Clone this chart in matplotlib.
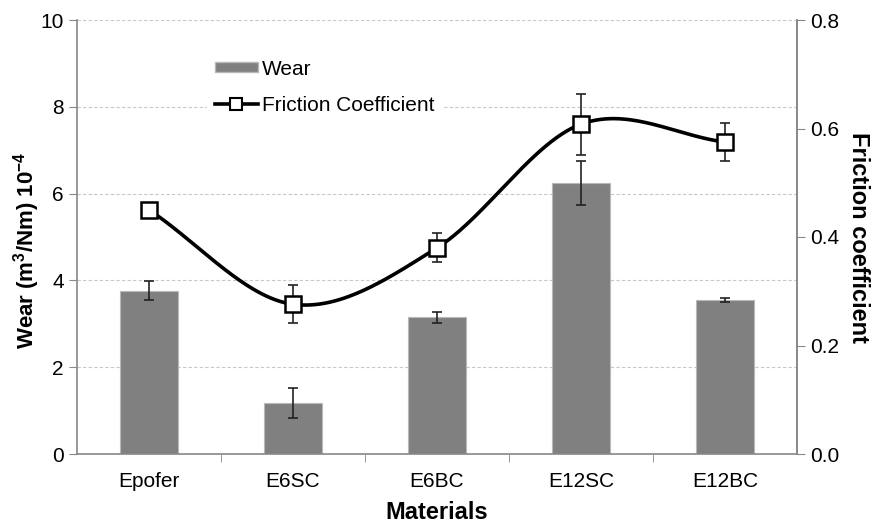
import numpy as np
import matplotlib
matplotlib.use("Agg")
import matplotlib.pyplot as plt
from matplotlib.lines import Line2D
from matplotlib.patches import Patch

plt.rcParams['font.family'] = ['Liberation Sans', 'DejaVu Sans']
plt.rcParams['mathtext.fontset'] = 'custom'
plt.rcParams['mathtext.rm'] = 'Liberation Sans'
plt.rcParams['mathtext.bf'] = 'Liberation Sans:bold'

materials = ["Epofer", "E6SC", "E6BC", "E12SC", "E12BC"]
wear = [3.76, 1.17, 3.15, 6.24, 3.55]
wear_err = [0.22, 0.35, 0.13, 0.50, 0.05]
friction = [0.45, 0.276, 0.38, 0.608, 0.575]
friction_err = [0.008, 0.035, 0.027, 0.056, 0.035]

def catmull_rom(xs, ys, n=60):
    xs = np.asarray(xs, float); ys = np.asarray(ys, float)
    px = np.concatenate([[2*xs[0]-xs[1]], xs, [2*xs[-1]-xs[-2]]])
    py = np.concatenate([[2*ys[0]-ys[1]], ys, [2*ys[-1]-ys[-2]]])
    outx, outy = [], []
    for i in range(1, len(px)-2):
        t = np.linspace(0, 1, n)
        p0, p1, p2, p3 = px[i-1], px[i], px[i+1], px[i+2]
        q0, q1, q2, q3 = py[i-1], py[i], py[i+1], py[i+2]
        b1x = p1 + (p2-p0)/6; b2x = p2 - (p3-p1)/6
        b1y = q1 + (q2-q0)/6; b2y = q2 - (q3-q1)/6
        bx = (1-t)**3*p1 + 3*(1-t)**2*t*b1x + 3*(1-t)*t**2*b2x + t**3*p2
        by = (1-t)**3*q1 + 3*(1-t)**2*t*b1y + 3*(1-t)*t**2*b2y + t**3*q2
        outx.append(bx); outy.append(by)
    return np.concatenate(outx), np.concatenate(outy)

fig = plt.figure(figsize=(8.75, 5.24), dpi=100)
ax = fig.add_axes([77/875, 1-454/524, 720/875, 434/524])
x = np.arange(len(materials))

ax.set_axisbelow(True)
ax.yaxis.grid(True, linestyle=(0, (3, 2)), color='#c8c8c8', linewidth=0.8)
ax.bar(x, wear, width=0.4, color='#808080', edgecolor='#b8b8b8', linewidth=0.8,
       label='Wear', zorder=2)
ax.errorbar(x, wear, yerr=wear_err, fmt='none', ecolor='#222222', elinewidth=1.2,
            capsize=3.5, capthick=1.2, zorder=3)
ax.set_xlim(-0.5, len(materials)-0.5)
ax.set_ylim(0, 10)
ax.set_yticks([0, 2, 4, 6, 8, 10])
ax.set_xticks(x)
ax.set_xticklabels(materials)
ax.set_xticks(np.arange(0.5, len(materials)-0.5, 1), minor=True)
ax.tick_params(axis='x', which='major', length=0, labelsize=15, pad=13)
ax.tick_params(axis='x', which='minor', length=6, color='#888888', direction='out')
ax.tick_params(axis='y', labelsize=15, length=6, color='#888888', direction='out')
ax.set_xlabel('Materials', fontsize=17, fontweight='bold', labelpad=7)
ax.set_ylabel(r'Wear (m$^{\mathbf{3}}$/Nm) 10$^{\mathbf{-4}}$', fontsize=16,
              fontweight='bold')
ax.yaxis.set_label_coords(-0.048, 0.47)
for s in ['left', 'bottom', 'right']:
    ax.spines[s].set_color('#888888')
    ax.spines[s].set_linewidth(1.2)
ax.spines['top'].set_visible(False)

ax2 = ax.twinx()
ax2.set_ylim(0, 0.8)
ax2.set_yticks([0.0, 0.2, 0.4, 0.6, 0.8])
ax2.set_yticklabels(['0.0', '0.2', '0.4', '0.6', '0.8'])
ax2.tick_params(axis='y', labelsize=15, length=6, color='#888888', direction='out')
ax2.spines['right'].set_color('#888888')
ax2.spines['right'].set_linewidth(1.2)
ax2.spines['top'].set_visible(False)
ax2.spines['left'].set_visible(False)
ax2.spines['bottom'].set_visible(False)
ax2.set_ylabel('Friction coefficient', fontsize=17, fontweight='bold', rotation=270,
               labelpad=22)

sx, sy = catmull_rom(x, friction)
ax2.plot(sx, sy, color='black', linewidth=2.6, zorder=2)
ax2.errorbar(x, friction, yerr=friction_err, fmt='none', ecolor='#222222',
             elinewidth=1.2, capsize=3.5, capthick=1.2, zorder=3)
ax2.plot(x, friction, linestyle='none', marker='s', markersize=11,
         markerfacecolor='white', markeredgecolor='black', markeredgewidth=1.8, zorder=4)

h1 = Patch(facecolor='#808080', edgecolor='#b8b8b8')
h2 = Line2D([0], [0], color='black', linewidth=2.6, marker='s', markersize=9,
            markerfacecolor='white', markeredgecolor='black', markeredgewidth=1.5)
leg = ax2.legend([h1, h2], ['Wear', 'Friction Coefficient'], loc='upper left',
                 bbox_to_anchor=(0.18, 0.928), frameon=True, fontsize=15,
                 handlelength=2.07, handleheight=0.4, labelspacing=0.82,
                 handletextpad=0.2, borderaxespad=0, borderpad=0.4)
leg.get_frame().set_edgecolor('none')
leg.get_frame().set_facecolor('white')
leg.get_frame().set_alpha(1)

fig.savefig('out.png', dpi=100)
